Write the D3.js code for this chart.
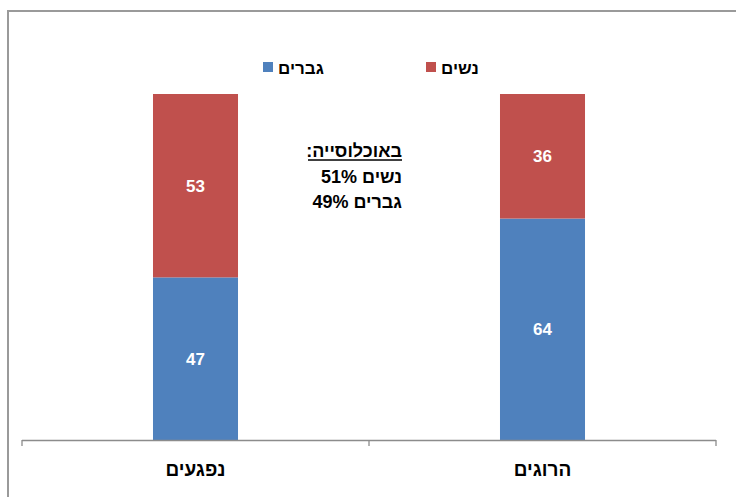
<!DOCTYPE html>
<html lang="he">
<head>
<meta charset="utf-8">
<script src="https://cdn.jsdelivr.net/npm/d3@7"></script>
<style>
  html, body { margin: 0; padding: 0; background: #fff; }
  svg { display: block; font-family: "Liberation Sans", Arial, "DejaVu Sans", sans-serif; }
</style>
</head>
<body>
<svg id="chart" width="736" height="497"></svg>
<script>
// Categories (left to right) and the share of each sex, in percent
const categories = ["נפגעים", "הרוגים"];
const men = [47, 64];
const women = [53, 36];
const seriesNames = ["גברים", "נשים"];
const seriesColors = ["#4F81BD", "#C0504D"];
const populationTitle = "באוכלוסייה:";
const populationLines = ["נשים 51%", "גברים 49%"];

const svg = d3.select("#chart");
const plot = { left: 22, right: 716, top: 94, bottom: 440 };

// Outer frame (right and bottom edges run off the page)
svg.append("rect")
  .attr("x", 8).attr("y", 11)
  .attr("width", 800).attr("height", 600)
  .attr("fill", "#fff")
  .attr("stroke", "#9a9a9a").attr("stroke-width", 2);

const x = d3.scaleBand()
  .domain(categories)
  .range([plot.left, plot.right])
  .paddingInner(0.755)
  .paddingOuter(0.3775);

const y = d3.scaleLinear().domain([0, 100]).range([plot.bottom, plot.top]);

const rows = categories.map((c, i) => ({ cat: c, "גברים": men[i], "נשים": women[i] }));
const stacked = d3.stack().keys(seriesNames)(rows);

const layers = svg.append("g").selectAll("g")
  .data(stacked).join("g")
  .attr("fill", (d, i) => seriesColors[i]);

layers.selectAll("rect")
  .data(d => d).join("rect")
  .attr("x", d => x(d.data.cat))
  .attr("width", x.bandwidth())
  .attr("y", d => y(d[1]))
  .attr("height", d => y(d[0]) - y(d[1]));

// Value labels inside each segment
layers.selectAll("text")
  .data(d => d.map(v => ({ v, val: v[1] - v[0] }))).join("text")
  .attr("x", d => x(d.v.data.cat) + x.bandwidth() / 2)
  .attr("y", d => (y(d.v[0]) + y(d.v[1])) / 2)
  .attr("dy", "0.36em")
  .attr("text-anchor", "middle")
  .attr("fill", "#fff")
  .attr("font-weight", "bold")
  .attr("font-size", 17)
  .text(d => d.val);

// Category axis with boundary ticks between bands
const axisG = svg.append("g");
axisG.append("line")
  .attr("x1", plot.left).attr("x2", plot.right)
  .attr("y1", plot.bottom + 0.5).attr("y2", plot.bottom + 0.5)
  .attr("stroke", "#8c8c8c").attr("stroke-width", 1.3);
const boundaries = [x.range()[0], ...categories.slice(1).map(c => x(c) - x.step() * x.paddingInner() / 2), x.range()[1]];
axisG.selectAll("line.tick")
  .data(boundaries).join("line")
  .attr("class", "tick")
  .attr("x1", d => d).attr("x2", d => d)
  .attr("y1", plot.bottom).attr("y2", plot.bottom + 6)
  .attr("stroke", "#8c8c8c").attr("stroke-width", 1.3);
axisG.selectAll("text")
  .data(categories).join("text")
  .attr("x", d => x(d) + x.bandwidth() / 2)
  .attr("y", 476)
  .attr("text-anchor", "middle")
  .attr("font-weight", "bold")
  .attr("font-size", 19)
  .attr("fill", "#000")
  .text(d => d);

// Legend
const legendItems = [
  { name: seriesNames[0], color: seriesColors[0], sx: 263 },
  { name: seriesNames[1], color: seriesColors[1], sx: 426 }
];
const lg = svg.append("g").selectAll("g").data(legendItems).join("g");
lg.append("rect")
  .attr("x", d => d.sx).attr("y", 62)
  .attr("width", 10).attr("height", 10)
  .attr("fill", d => d.color);
lg.append("text")
  .attr("x", d => d.sx + 15).attr("y", 74)
  .attr("font-weight", "bold").attr("font-size", 17)
  .attr("fill", "#000")
  .text(d => d.name);

// Population note
const note = svg.append("g");
note.append("text")
  .attr("x", 402).attr("y", 157)
  .attr("direction", "rtl").attr("text-anchor", "start")
  .attr("font-weight", "bold").attr("font-size", 18)
  .text(populationTitle);
note.append("line")
  .attr("x1", 308).attr("x2", 402)
  .attr("y1", 160).attr("y2", 160)
  .attr("stroke", "#000").attr("stroke-width", 1.3);
note.selectAll("text.line")
  .data(populationLines).join("text")
  .attr("class", "line")
  .attr("x", 402).attr("y", (d, i) => 183 + i * 25)
  .attr("direction", "rtl").attr("text-anchor", "start")
  .attr("font-weight", "bold").attr("font-size", 18)
  .text(d => d);
</script>
</body>
</html>
